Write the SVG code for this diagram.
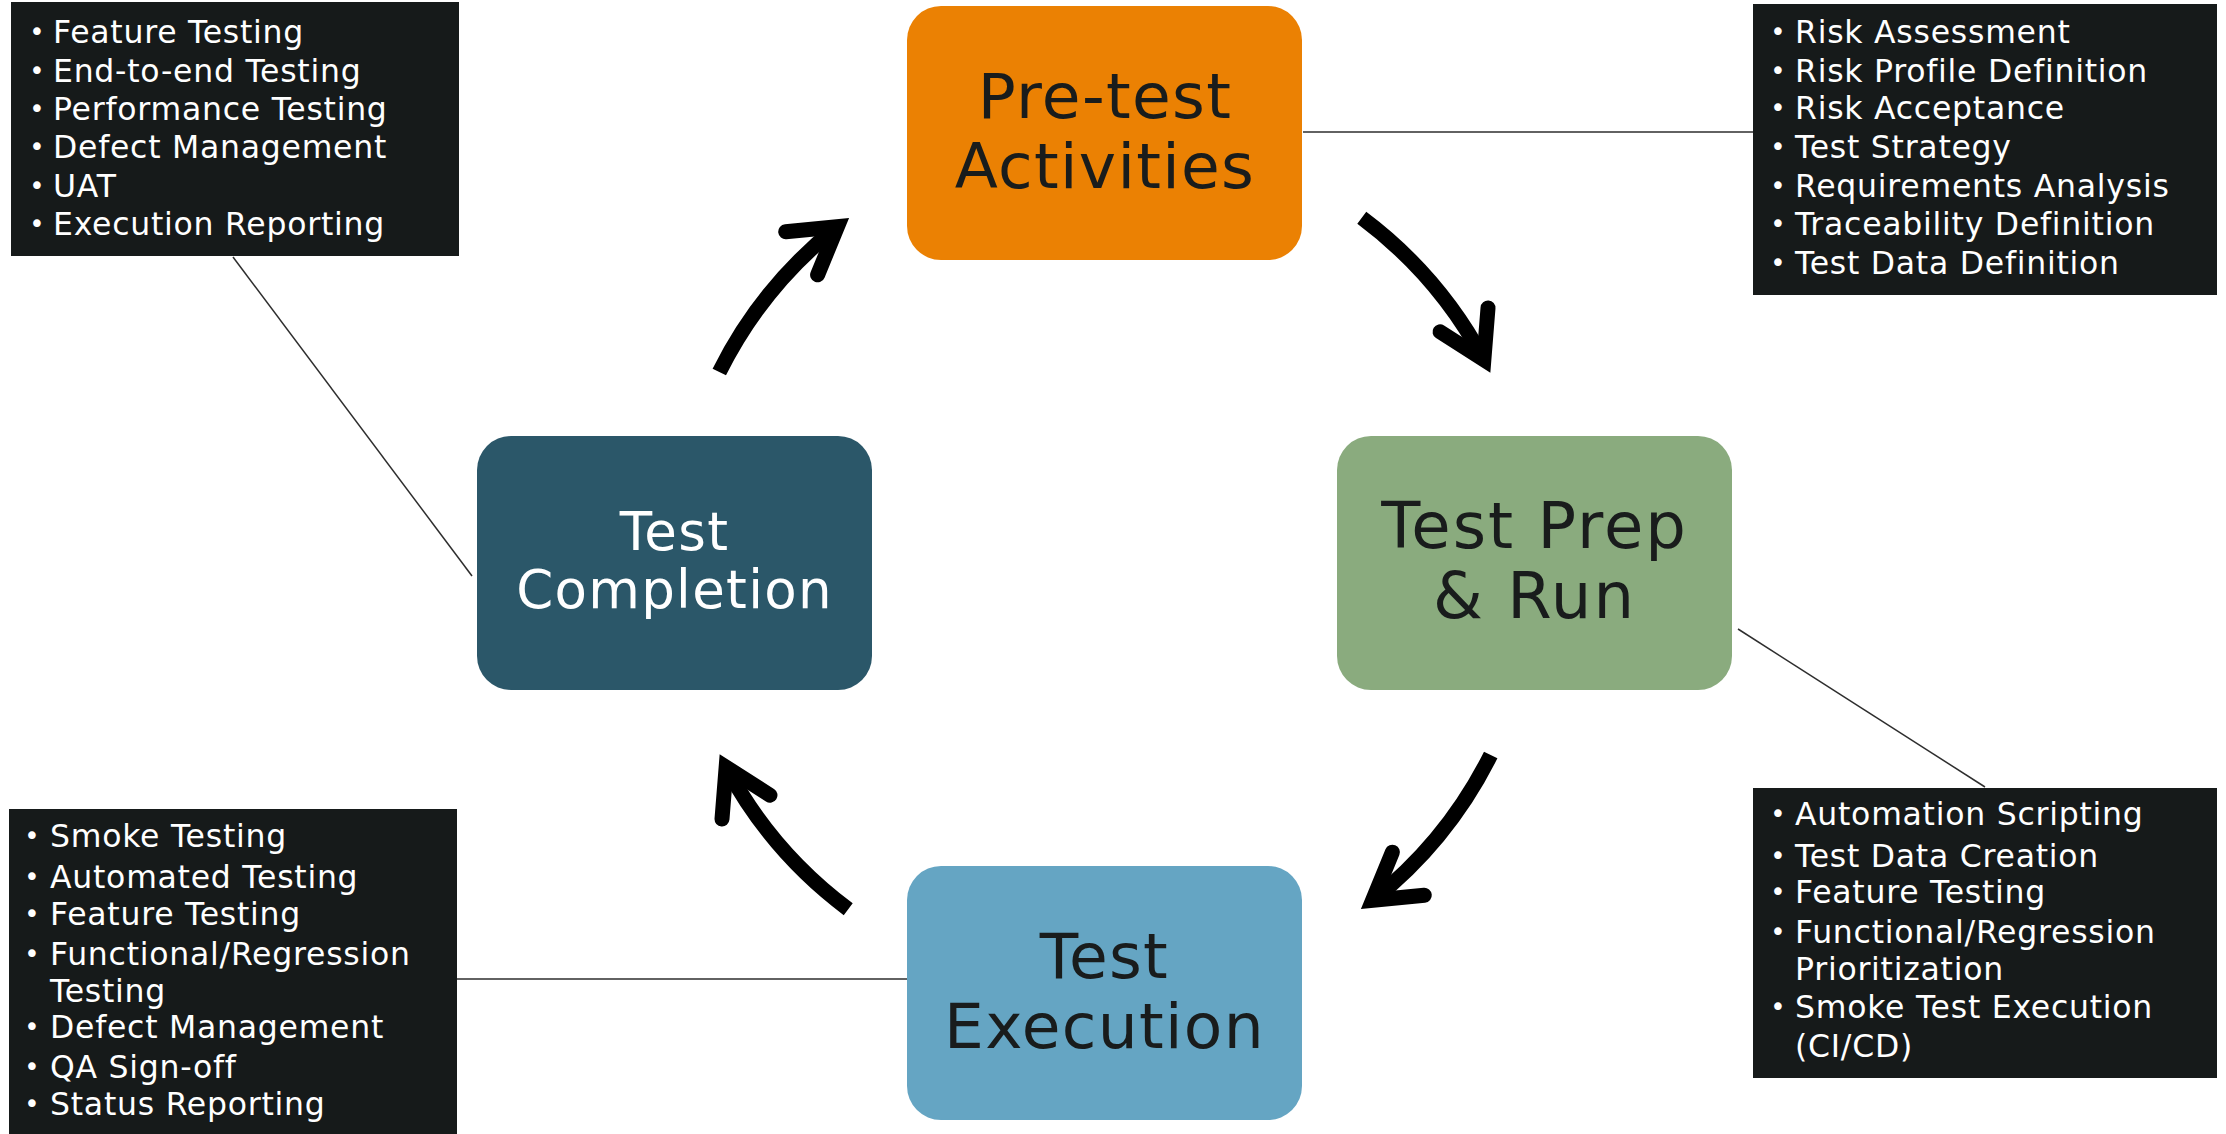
<svg xmlns="http://www.w3.org/2000/svg" width="2226" height="1134" viewBox="0 0 2226 1134">
<defs>
<style>
.node-text{font-family:"DejaVu Sans","Liberation Sans",sans-serif;text-anchor:middle;letter-spacing:1.3px}
.dark{fill:#191c1c}
.light{fill:#ffffff}
.panel{fill:#161a1a}
.li{font-family:"DejaVu Sans","Liberation Sans",sans-serif;font-size:31.5px;fill:#ffffff;letter-spacing:0.75px}
.bul{font-family:"DejaVu Sans","Liberation Sans",sans-serif;font-size:26px;fill:#ffffff;text-anchor:middle}
.thin{stroke:#2e2e2e;stroke-width:1.5;fill:none}
.shaft{stroke:#000;stroke-width:15;fill:none;stroke-linecap:butt}
.head{stroke:#000;stroke-width:15;fill:none;stroke-linecap:round;stroke-linejoin:miter;stroke-miterlimit:10}
</style>
<g id="arrow">
<path class="shaft" d="M 719.3 372 A 430 430 0 0 1 837.4 226.7"/>
<path class="head" d="M 785.7 231.8 L 837.4 226.7 L 817.6 274.8"/>
</g>
</defs>
<rect x="0" y="0" width="2226" height="1134" fill="#ffffff"/>

<g id="connectors">
<line class="thin" x1="1303" y1="132" x2="1753" y2="132"/>
<line class="thin" x1="233" y1="257" x2="472" y2="576"/>
<line class="thin" x1="1738" y1="629" x2="1985" y2="787"/>
<line class="thin" x1="457" y1="979" x2="907" y2="979"/>
<use href="#arrow"/>
<use href="#arrow" transform="rotate(100.2 1105 563.5)"/>
<use href="#arrow" transform="rotate(180 1105 563.5)"/>
<use href="#arrow" transform="rotate(280.2 1105 563.5)"/>
</g>

<g id="node-pretest">
<rect x="907" y="6" width="395" height="254" rx="34" fill="#eb8103"/>
<text class="node-text dark" font-size="63" x="1105" y="118">Pre-test</text>
<text class="node-text dark" font-size="63" x="1105" y="188">Activities</text>
</g>

<g id="node-prep">
<rect x="1337" y="436" width="395" height="254" rx="34" fill="#8aab7e"/>
<text class="node-text dark" font-size="64" x="1534.5" y="548" style="letter-spacing:2px">Test Prep</text>
<text class="node-text dark" font-size="64" x="1534.5" y="618" style="letter-spacing:2px">&amp; Run</text>
</g>

<g id="node-completion">
<rect x="477" y="436" width="395" height="254" rx="34" fill="#2b5769"/>
<text class="node-text light" font-size="53" x="674.5" y="550">Test</text>
<text class="node-text light" font-size="53" x="674.5" y="608">Completion</text>
</g>

<g id="node-execution">
<rect x="907" y="866" width="395" height="254" rx="34" fill="#65a5c3"/>
<text class="node-text dark" font-size="63" x="1104.5" y="978">Test</text>
<text class="node-text dark" font-size="63" x="1104.5" y="1048">Execution</text>
</g>

<g id="list-completion">
<rect class="panel" x="11" y="2" width="448" height="254"/>
<text class="bul" x="37" y="41">•</text><text class="li" x="53" y="43">Feature Testing</text>
<text class="bul" x="37" y="80">•</text><text class="li" x="53" y="82">End-to-end Testing</text>
<text class="bul" x="37" y="118">•</text><text class="li" x="53" y="120">Performance Testing</text>
<text class="bul" x="37" y="156">•</text><text class="li" x="53" y="158">Defect Management</text>
<text class="bul" x="37" y="195">•</text><text class="li" x="53" y="197">UAT</text>
<text class="bul" x="37" y="233">•</text><text class="li" x="53" y="235">Execution Reporting</text>
</g>

<g id="list-pretest">
<rect class="panel" x="1753" y="4" width="464" height="291"/>
<text class="bul" x="1778" y="41">•</text><text class="li" x="1795" y="43">Risk Assessment</text>
<text class="bul" x="1778" y="80">•</text><text class="li" x="1795" y="82">Risk Profile Definition</text>
<text class="bul" x="1778" y="117">•</text><text class="li" x="1795" y="119">Risk Acceptance</text>
<text class="bul" x="1778" y="156">•</text><text class="li" x="1795" y="158">Test Strategy</text>
<text class="bul" x="1778" y="195">•</text><text class="li" x="1795" y="197">Requirements Analysis</text>
<text class="bul" x="1778" y="233">•</text><text class="li" x="1795" y="235">Traceability Definition</text>
<text class="bul" x="1778" y="272">•</text><text class="li" x="1795" y="274">Test Data Definition</text>
</g>

<g id="list-execution">
<rect class="panel" x="9" y="809" width="448" height="330"/>
<text class="bul" x="32" y="845">•</text><text class="li" x="50" y="847">Smoke Testing</text>
<text class="bul" x="32" y="886">•</text><text class="li" x="50" y="888">Automated Testing</text>
<text class="bul" x="32" y="923">•</text><text class="li" x="50" y="925">Feature Testing</text>
<text class="bul" x="32" y="963">•</text><text class="li" x="50" y="965">Functional/Regression</text>
<text class="li" x="50" y="1002">Testing</text>
<text class="bul" x="32" y="1036">•</text><text class="li" x="50" y="1038">Defect Management</text>
<text class="bul" x="32" y="1076">•</text><text class="li" x="50" y="1078">QA Sign-off</text>
<text class="bul" x="32" y="1113">•</text><text class="li" x="50" y="1115">Status Reporting</text>
</g>

<g id="list-prep">
<rect class="panel" x="1753" y="788" width="464" height="290"/>
<text class="bul" x="1778" y="823">•</text><text class="li" x="1795" y="825">Automation Scripting</text>
<text class="bul" x="1778" y="865">•</text><text class="li" x="1795" y="867">Test Data Creation</text>
<text class="bul" x="1778" y="901">•</text><text class="li" x="1795" y="903">Feature Testing</text>
<text class="bul" x="1778" y="941">•</text><text class="li" x="1795" y="943">Functional/Regression</text>
<text class="li" x="1795" y="980">Prioritization</text>
<text class="bul" x="1778" y="1016">•</text><text class="li" x="1795" y="1018">Smoke Test Execution</text>
<text class="li" x="1795" y="1057">(CI/CD)</text>
</g>
</svg>
